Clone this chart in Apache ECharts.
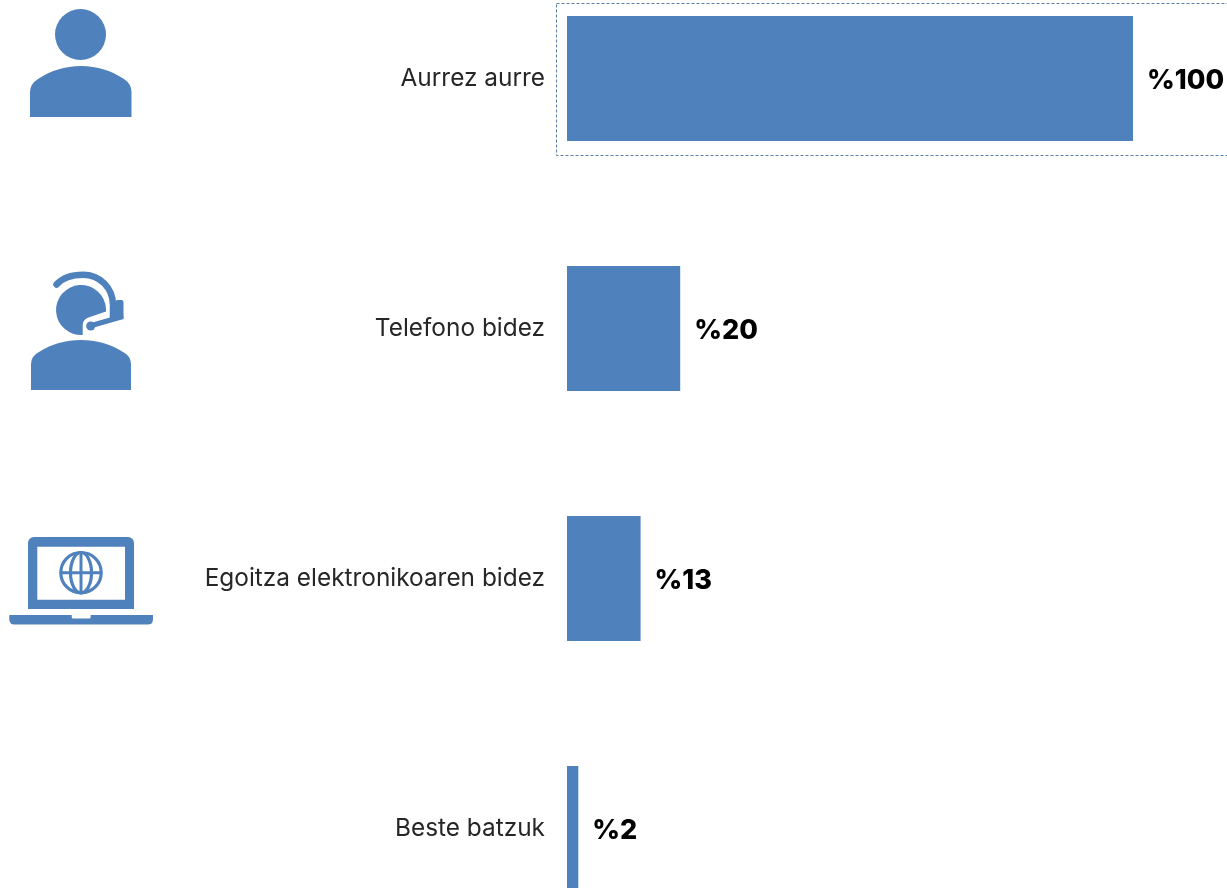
<!DOCTYPE html>
<html>
<head>
<meta charset="utf-8">
<style>html,body{margin:0;padding:0;background:#fff}#chart{width:1227px;height:888px}</style>
<script src="https://cdn.jsdelivr.net/npm/echarts@6/dist/echarts.min.js"></script>
</head>
<body>
<div id="chart"></div>
<script>
// Arretarako bideak: kategoriak eta ehunekoak
const categories = ['Aurrez aurre', 'Telefono bidez', 'Egoitza elektronikoaren bidez', 'Beste batzuk'];
const shares = [100, 20, 13, 2];

const BLUE = '#4F81BD';
const FONT = '"Inter", "Open Sans", sans-serif';

// SVG outlines registered as graphic shapes, drawn in page coordinates
function pathShape(name, d, style) {
  echarts.graphic.registerShape(name, echarts.graphic.extendPath(d, {}));
  return { type: name, style: style || { fill: BLUE }, silent: true };
}
const circle = (cx, cy, r, style) => ({
  type: 'circle', shape: { cx, cy, r }, style: Object.assign({ fill: BLUE }, style || {}), silent: true
});
const stroked = { fill: 'none', stroke: BLUE, lineWidth: 3.2 };

const person = [
  circle(80.5, 34.5, 25.5),
  pathShape('shouldersA', 'M30 117V92Q30 84 38 79C50 71 65 66 81 66C97 66 112 71 124 79Q131.5 84 131.5 92V117Z')
];

const headset = [
  pathShape('shouldersB', 'M31 390V364Q31 356 39 352C51 344 66 340 81 340C96 340 111 344 123 352Q131 356 131 364V390Z'),
  pathShape('headB', 'M82.7 335A25 25 0 1 1 106 311.5L88.5 317.5Q82.7 319.5 82.7 325Z'),
  pathShape('bandB', 'M56.5 284.5C63 277 73 274.7 83 274.7C100 274.7 113 288 113 305V318',
    { fill: 'none', stroke: BLUE, lineWidth: 6.5, lineCap: 'round' }),
  { type: 'rect', shape: { x: 115.5, y: 300, width: 8, height: 19.3, r: [2, 2, 0, 0] }, style: { fill: BLUE }, silent: true },
  { type: 'line', shape: { x1: 91.5, y1: 325.5, x2: 121, y2: 317 },
    style: { stroke: BLUE, lineWidth: 5, lineCap: 'round' }, silent: true },
  circle(90.7, 326, 4.5)
];

const laptop = [
  { type: 'rect', shape: { x: 28, y: 537, width: 106, height: 72, r: [6, 6, 0, 0] }, style: { fill: BLUE }, silent: true },
  { type: 'rect', shape: { x: 37.3, y: 546.7, width: 87.7, height: 53 }, style: { fill: '#fff' }, silent: true },
  { type: 'rect', shape: { x: 9.3, y: 615, width: 143.7, height: 9.6, r: [0, 0, 5, 5] }, style: { fill: BLUE }, silent: true },
  { type: 'rect', shape: { x: 71.7, y: 615, width: 19, height: 3.6, r: [0, 0, 1.5, 1.5] }, style: { fill: '#fff' }, silent: true },
  circle(81, 572.7, 20.2, stroked),
  { type: 'ellipse', shape: { cx: 81, cy: 572.7, rx: 10.5, ry: 20.2 }, style: stroked, silent: true },
  { type: 'line', shape: { x1: 81, y1: 552.5, x2: 81, y2: 593 }, style: { stroke: BLUE, lineWidth: 3 }, silent: true },
  { type: 'line', shape: { x1: 61, y1: 572.7, x2: 101, y2: 572.7 }, style: { stroke: BLUE, lineWidth: 3 }, silent: true }
];

// Dotted selection frame around the first row, open past the right page edge
const frame = {
  type: 'rect',
  shape: { x: 556.5, y: 3.5, width: 690, height: 152 },
  style: { fill: 'none', stroke: '#5A7FA5', lineWidth: 1, lineDash: [3, 2] },
  silent: true
};

const chart = echarts.init(document.getElementById('chart'), null, { renderer: 'canvas' });
chart.setOption({
  animation: false,
  backgroundColor: '#fff',
  // The band height is 250px, so the lowest bar runs off the bottom of the page
  grid: { left: 567, width: 566, top: -46.5, height: 1000, outerBoundsMode: 'none' },
  xAxis: { type: 'value', min: 0, max: 100, show: false },
  yAxis: {
    type: 'category',
    inverse: true,
    data: categories,
    axisLine: { show: false },
    axisTick: { show: false },
    splitLine: { show: false },
    axisLabel: { color: '#262626', fontFamily: FONT, fontSize: 24.4, margin: 22, align: 'right' }
  },
  series: [{
    type: 'bar',
    data: shares,
    barWidth: 125,
    itemStyle: { color: BLUE },
    label: {
      show: true,
      position: 'right',
      distance: 14,
      offset: [0, 2],
      formatter: p => '%' + p.value,
      color: '#000',
      fontFamily: FONT,
      fontWeight: 800,
      fontSize: 27
    }
  }],
  graphic: { elements: [frame].concat(person, headset, laptop) }
});
</script>
</body>
</html>
